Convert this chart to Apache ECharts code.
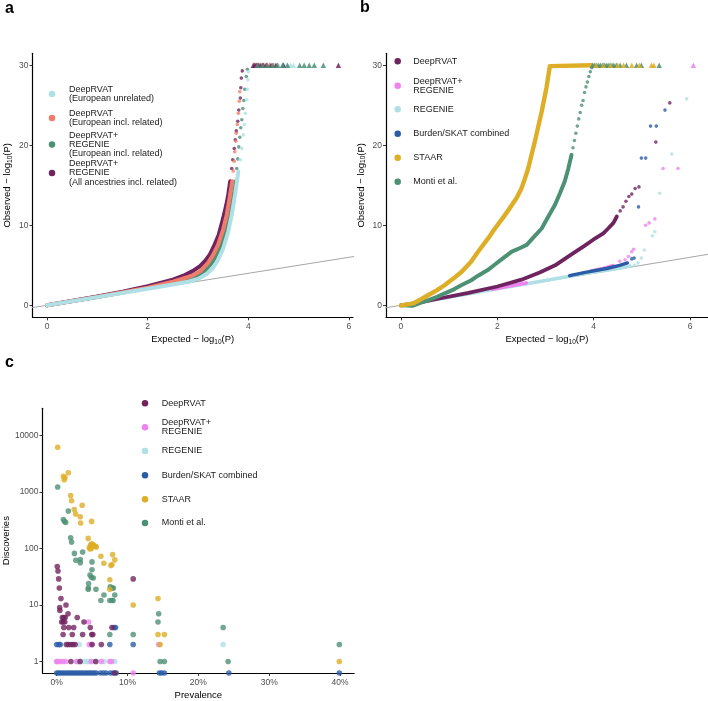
<!DOCTYPE html>
<html><head><meta charset="utf-8">
<script src="https://cdn.jsdelivr.net/npm/echarts@6/dist/echarts.min.js"></script>
<style>html,body{margin:0;padding:0;background:#fff}#c{width:708px;height:701px}</style>
</head><body><div id="c"></div>
<script>
// ---------- colours ----------
const COL = {purple:'#70245f', pink:'#ee82ee', lightblue:'#b0e0e6', blue:'#2b5ca6', gold:'#ddae26', green:'#4d9174', salmon:'#f07d6c', ident:'#a6a6a6'};

// ---------- panel a: QQ, [expected, observed] ----------
const aNames = ['DeepRVAT\n(European unrelated)','DeepRVAT\n(European incl. related)','DeepRVAT+\nREGENIE\n(European incl. related)','DeepRVAT+\nREGENIE\n(All ancestries incl. related)'];
const aEurUnrel_dense = [[0,0],[1,1.02],[2,2.08],[2.5,2.6],[2.8,2.95],[3.0,3.3],[3.17,3.9],[3.3,4.7],[3.4,5.7],[3.5,7.1],[3.6,9.2],[3.67,11.3],[3.74,14.0],[3.8,16.7]];
const aEurUnrel_tail = [[3.84,18.2],[3.87,19.6],[3.9,21.3],[3.92,22.6],[3.94,24.0],[3.97,25.7],[3.98,27.0],[3.99,28.2],[4.0,29.2]];
const aEurUnrel_capX = [4.14,4.22,4.32,4.42,4.52,4.6,4.68,4.76,4.84,4.9];
const aEurRel_dense = [[0,0],[1,1.05],[2,2.2],[2.5,2.95],[2.71,3.35],[2.9,3.75],[3.05,4.3],[3.2,5.3],[3.3,6.3],[3.4,7.6],[3.5,9.5],[3.57,11.3],[3.63,13.5],[3.68,15.5]];
const aEurRel_tail = [[3.7,16.8],[3.72,18.0],[3.73,19.2],[3.75,20.5],[3.76,21.5],[3.78,22.6],[3.8,24.0],[3.82,25.5],[3.83,26.7]];
const aEurRel_capX = [4.12,4.15,4.19,4.23,4.28,4.34,4.42,4.5];
const aRegEur_dense = [[0,0],[1,1.04],[2,2.15],[2.5,2.8],[2.8,3.25],[3.0,3.75],[3.15,4.4],[3.3,5.5],[3.45,7.5],[3.55,9.5],[3.64,11.3],[3.7,13.5],[3.75,15.5]];
const aRegEur_tail = [[3.77,17.1],[3.79,18.3],[3.81,19.8],[3.83,21.0],[3.85,22.2],[3.87,23.2],[3.89,24.6],[3.91,25.6],[3.93,27.0],[3.96,28.6],[3.98,29.5]];
const aRegEur_capX = [4.18,4.28,4.38,4.48,4.58,4.68,4.78,5.02,5.11,5.21,5.31,5.49];
const aRegAll_dense = [[0,0],[1,1.1],[1.5,1.7],[2,2.4],[2.5,3.2],[2.71,3.7],[2.9,4.3],[3.04,4.9],[3.15,5.6],[3.24,6.4],[3.33,7.6],[3.41,8.8],[3.5,10.9],[3.56,12.5],[3.6,13.8],[3.64,15.5]];
const aRegAll_tail = [[3.67,17.1],[3.69,18.2],[3.72,19.6],[3.74,20.7],[3.76,21.8],[3.79,23.0],[3.81,24.4],[3.84,25.9],[3.85,27.2],[3.86,28.4],[3.88,29.3]];
const aRegAll_capX = [4.1,4.13,4.16,4.2,4.25,4.3,4.36,4.45,4.55,4.7,5.79];
const qqCap = 30;

// ---------- panel b ----------
const bNames = ['DeepRVAT','DeepRVAT+\nREGENIE','REGENIE','Burden/SKAT combined','STAAR','Monti et al.'];
const bDeep_dense = [[0,0],[0.3,0.25],[0.8,0.85],[1.4,1.55],[2.0,2.35],[2.5,3.2],[2.88,4.1],[3.2,5.0],[3.57,6.5],[3.8,7.4],[3.99,8.2],[4.2,9.0],[4.3,9.6],[4.41,10.3],[4.48,11.1]];
const bDeep_tail = [[4.55,11.8],[4.61,12.3],[4.67,13.0],[4.73,13.6],[4.79,13.9],[4.86,14.6],[4.94,14.8],[5.29,20.4],[5.58,25.3]];
const bDRR_dense1 = [[1.9,2.02],[2.25,2.42],[2.6,2.8]];
const bDRR_dense2 = [[3.95,4.3],[4.2,4.6],[4.4,4.95]];
const bDRR_tail = [[4.54,5.5],[4.65,5.7],[4.72,6.1],[4.79,6.7],[4.83,7.0],[5.08,10.0],[5.15,10.3],[5.27,10.8],[5.44,17.1],[5.75,17.1]];
const bDRR_capX = [6.07];
const bReg_dense = [[0,0],[1,1.02],[2,2.08],[3,3.1],[4,4.15],[4.5,4.6],[4.75,4.9]];
const bReg_tail = [[4.85,5.0],[4.92,5.3],[4.99,5.9],[5.05,6.9],[5.22,8.7],[5.27,9.2],[5.37,14.0],[5.62,18.9],[5.93,25.8]];
const bBurden_dense = [[3.5,3.7],[3.85,4.15],[4.27,4.6],[4.54,5.0],[4.7,5.3]];
const bBurden_tail = [[4.79,5.8],[4.84,5.9],[4.93,12.3],[4.99,18.4],[5.08,18.4],[5.18,22.4],[5.3,22.4],[5.48,24.4]];
const bStaar_dense = [[0,0],[0.26,0.25],[0.4,0.7],[0.57,1.29],[0.75,1.9],[0.91,2.54],[1.1,3.4],[1.26,4.2],[1.45,5.4],[1.6,6.7],[1.8,8.3],[1.95,9.6],[2.1,10.8],[2.23,11.9],[2.4,13.4],[2.5,14.6],[2.57,15.8],[2.64,17.1],[2.78,20.5],[2.92,24.2],[3.02,27.2],[3.09,29.9],[3.12,30],[3.96,30]];
const bStaar_capX = [4.05,4.2,4.35,4.5,4.62,4.79,4.95,5.2,5.25];
const bMonti_dense = [[0,0],[0.25,-0.05],[0.4,0.3],[0.57,0.66],[0.75,1.05],[0.91,1.5],[1.1,2.0],[1.26,2.54],[1.45,3.1],[1.6,3.7],[1.8,4.4],[1.95,5.1],[2.1,5.8],[2.3,6.7],[2.45,7.1],[2.61,7.55],[2.75,8.5],[2.92,9.6],[3.05,11],[3.2,12.6],[3.3,14],[3.4,15.5],[3.47,17],[3.54,18.8]];
const bMonti_tail = [[3.57,19.7],[3.6,20.6],[3.63,21.5],[3.66,22.4],[3.69,23.3],[3.72,24.1],[3.75,25.0],[3.78,25.6],[3.81,26.6],[3.84,27.3],[3.87,27.9],[3.9,28.6],[3.93,29.2],[3.96,29.7]];
const bMonti_capX = [3.98,4.02,4.06,4.1,4.14,4.18,4.22,4.26,4.3,4.34,4.38,4.42,4.47,4.55,4.68,4.89,4.99,5.36];

// ---------- panel c: prevalence (%) vs discoveries ----------
const cDeep_prev = [0.08,0.18,0.28,0.37,0.6,0.42,0.45,1.31,1.6,0.8,1.0,1.2,2.9,0.7,0.9,1.15,3.85,1.0,1.7,2.4,4.74,7.8,0.9,2.2,3.66,4.95,5.1,1.36,1.64,2.0,2.3,2.6,5.0,6.3,10.8,2.0,3.3,5.5,8.2];
const cDeep_disc = [48,40,29,20,13,9,8,10,7,6,6,6,6,5,5,5,5,4,4,4,4,4,3,3,3,3,3,2,2,2,2,2,2,2,29,1,1,1,0];
const cDRR_prev = [0.0,0.1,0.45,0.85,1.27,2.8,4.9,6.3,7.5,7.75,4.6,4.9,14.4,4.5,10.8];
const cDRR_disc = [1,1,1,1,1,1,1,1,1,1,2,2,2,5,0];
const cReg_prev = [2.9,3.3,3.9,4.3,4.6,5.6,6.7,8.2,3.2,23.5];
const cReg_disc = [1,1,1,1,1,1,1,1,2,2];
const cBurden_prev = [8.1,8.3,0.0,0.3,0.5,7.5,10.8,0,0.25,0.5,0.8,1.1,1.4,1.7,2.0,2.3,2.6,2.9,3.2,3.5,3.8,4.1,4.4,4.7,5.0,5.3,5.6,6.2,6.6,7.0,7.6,8.0,8.4,14.5,14.8,15.2,24.3,39.9];
const cBurden_disc = [4,4,2,2,2,2,2,0,0,0,0,0,0,0,0,0,0,0,0,0,0,0,0,0,0,0,0,0,0,0,0,0,0,0,0,0,0,0];
const cStaar_prev = [0.14,1.64,0.94,1.17,1.05,1.97,2.1,2.48,2.67,3.6,3.32,3.38,4.93,4.45,4.6,4.75,4.85,4.95,5.05,5.15,5.3,5.45,5.6,4.7,4.9,6.24,7.9,8.2,6.66,7.65,7.8,7.5,7.5,10.8,14.3,14.3,15.2,14.6,39.9];
const cStaar_disc = [6200,2200,1900,1800,1650,870,700,490,410,585,365,283,302,151,103,112,118,121,115,117,112,110,106,98,100,73,78,63,55,50,52,28,19,10,13,3,3,2,1];
const cMonti_prev = [0.14,0.94,1.1,1.27,1.64,1.97,2.1,2.5,2.7,3.33,3.33,3.66,4.98,4.98,4.7,4.9,5.16,4.5,4.46,4.46,5.54,6.67,6.24,7.56,7.84,8.0,8.2,7.5,7.8,7.95,7.5,10.8,14.4,14.3,14.6,15.2,23.5,24.2,39.9];
const cMonti_disc = [1230,325,300,290,460,155,130,82,62,64,56,87,58,42,34,31,30,24,20,19,19,15,12,21,20,20,15,12,12,12,3,3,7,5,1,1,4,1,2];

const aXTicks = [0,2,4,6], aYTicks = [0,10,20,30];
const cXTicks = [0,10,20,30,40], cYTicks = [0,1,2,3,4];

// ---------- layout / styles ----------
const FONT = 'Liberation Sans';
const cYMin = -0.204, cYMax = 4.483;
const chart = echarts.init(document.getElementById('c'), null, {renderer:'canvas'});

function axisCommon(ticks, fmt){
  return {
    type:'value',
    axisLine:{show:true, onZero:false, lineStyle:{color:'#000', width:1.2}},
    axisTick:{show:true, length:3, customValues:ticks, lineStyle:{color:'#333', width:1}},
    axisLabel:{customValues:ticks, fontSize:8.5, color:'#4d4d4d', fontFamily:FONT, formatter:fmt},
    splitLine:{show:false}
  };
}
const richName = {t:{fontSize:9.5, color:'#000', fontFamily:FONT, lineHeight:12}, s:{fontSize:6.5, color:'#000', fontFamily:FONT, verticalAlign:'bottom', lineHeight:6}};

const xAxes = [
  Object.assign(axisCommon(aXTicks), {gridIndex:0, min:-0.29, max:6.08, name:'{t|Expected − log}{s|10}{t|(P)}', nameLocation:'middle', nameGap:16, nameTextStyle:{rich:richName}}),
  Object.assign(axisCommon(aXTicks), {gridIndex:1, min:-0.311, max:6.373, name:'{t|Expected − log}{s|10}{t|(P)}', nameLocation:'middle', nameGap:16, nameTextStyle:{rich:richName}}),
  Object.assign(axisCommon(cXTicks, v=>v+'%'), {gridIndex:2, min:-2, max:42, name:'Prevalence', nameLocation:'middle', nameGap:17, nameTextStyle:{fontSize:9.5, color:'#000', fontFamily:FONT}})
];
xAxes.forEach(a=>{a.axisLabel.margin=5;});
const yAxes = [
  Object.assign(axisCommon(aYTicks), {gridIndex:0, min:-1.5, max:31.5, name:'{t|Observed − log}{s|10}{t|(P)}', nameLocation:'middle', nameGap:19, nameRotate:90, nameTextStyle:{rich:richName}}),
  Object.assign(axisCommon(aYTicks), {gridIndex:1, min:-1.5, max:31.5, name:'{t|Observed − log}{s|10}{t|(P)}', nameLocation:'middle', nameGap:19, nameRotate:90, nameTextStyle:{rich:richName}}),
  Object.assign(axisCommon(cYTicks, v=>String(Math.round(Math.pow(10,v)))), {gridIndex:2, min:cYMin, max:cYMax, name:'Discoveries', nameLocation:'middle', nameGap:31, nameRotate:90, nameTextStyle:{fontSize:9.5, color:'#000', fontFamily:FONT}})
];
yAxes.forEach(a=>{a.axisLabel.margin=4;});

const series = [];
function ident(g){
  series.push({type:'line', xAxisIndex:g, yAxisIndex:g, data:[[-1,-1],[7,7]], symbol:'none', silent:true,
    lineStyle:{color:COL.ident, width:1}, z:1, animation:false});
}
function dense(g, name, color, data, w){
  series.push({type:'line', name, xAxisIndex:g, yAxisIndex:g, data, color, symbol:'none', silent:true,
    lineStyle:{color, width:w||4, cap:'round', join:'round'}, itemStyle:{color}, animation:false, z:2});
}
function tail(g, name, color, data){
  series.push({type:'scatter', name, xAxisIndex:g, yAxisIndex:g, data, color, symbolSize:3.6, silent:true,
    itemStyle:{color}, animation:false, z:3});
}
function cap(g, name, color, xs){
  series.push({type:'scatter', name, xAxisIndex:g, yAxisIndex:g, data:xs.map(x=>[x,qqCap]), color, symbol:'triangle', symbolSize:5.5, silent:true,
    itemStyle:{color, opacity:0.85}, animation:false, z:3, clip:false});
}

// panel a
ident(0);
dense(0, aNames[3], COL.purple, aRegAll_dense);
dense(0, aNames[2], COL.green, aRegEur_dense);
dense(0, aNames[1], COL.salmon, aEurRel_dense);
dense(0, aNames[0], COL.lightblue, aEurUnrel_dense);
tail(0, aNames[3], COL.purple, aRegAll_tail);
tail(0, aNames[2], COL.green, aRegEur_tail);
tail(0, aNames[1], COL.salmon, aEurRel_tail);
tail(0, aNames[0], COL.lightblue, aEurUnrel_tail);
cap(0, aNames[0], COL.lightblue, aEurUnrel_capX);
cap(0, aNames[1], COL.salmon, aEurRel_capX);
cap(0, aNames[3], COL.purple, aRegAll_capX);
cap(0, aNames[2], COL.green, aRegEur_capX);

// panel b
ident(1);
dense(1, bNames[2], COL.lightblue, bReg_dense, 3.6);
dense(1, bNames[1], COL.pink, bDRR_dense1, 3.6);
dense(1, bNames[1], COL.pink, bDRR_dense2, 3.6);
dense(1, bNames[3], COL.blue, bBurden_dense, 3.4);
dense(1, bNames[0], COL.purple, bDeep_dense, 3.8);
dense(1, bNames[5], COL.green, bMonti_dense, 4);
dense(1, bNames[4], COL.gold, bStaar_dense, 4.4);
tail(1, bNames[2], COL.lightblue, bReg_tail);
tail(1, bNames[1], COL.pink, bDRR_tail);
tail(1, bNames[3], COL.blue, bBurden_tail);
tail(1, bNames[0], COL.purple, bDeep_tail);
tail(1, bNames[5], COL.green, bMonti_tail);
cap(1, bNames[5], COL.green, bMonti_capX);
cap(1, bNames[4], COL.gold, bStaar_capX);
cap(1, bNames[1], COL.pink, bDRR_capX);

// panel c
function cPts(prev, disc){ return prev.map((p,i)=>[p, disc[i]>0 ? Math.log10(disc[i]) : cYMin]); }
function cSer(name, color, prev, disc){
  series.push({type:'scatter', name, xAxisIndex:2, yAxisIndex:2, data:cPts(prev,disc), color, symbolSize:5.6, silent:true,
    itemStyle:{color}, animation:false, z:3, clip:false});
}
cSer(bNames[2], COL.lightblue, cReg_prev, cReg_disc);
cSer(bNames[1], COL.pink, cDRR_prev, cDRR_disc);
cSer(bNames[3], COL.blue, cBurden_prev, cBurden_disc);
cSer(bNames[0], COL.purple, cDeep_prev, cDeep_disc);
cSer(bNames[5], COL.green, cMonti_prev, cMonti_disc);
cSer(bNames[4], COL.gold, cStaar_prev, cStaar_disc);

// legends: one per item for exact placement (icon centre cx, icon centre cy)
const LH = 9.3;
function leg(name, cx, cy, itemW){
  const n = name.split('\n').length;
  return {data:[name], left:cx - 3.25, top:cy - n*LH/2, orient:'vertical', padding:0, itemWidth:itemW, itemHeight:6.5,
    icon:'circle', selectedMode:false, textStyle:{fontSize:9, lineHeight:LH, color:'#1a1a1a', fontFamily:FONT}};
}
const legends = [
  leg(aNames[0], 52, 94, 24), leg(aNames[1], 52, 118, 24), leg(aNames[2], 52, 144.5, 24), leg(aNames[3], 52, 173, 24)
];
[61.3, 85.7, 109.3, 133.7, 157.7, 181.7].forEach((y,i)=>legends.push(leg(bNames[i], 397.7, y, 21.2)));
[403.3, 427.3, 451, 475.3, 499.3, 523].forEach((y,i)=>legends.push(leg(bNames[i], 145, y, 23.4)));

chart.setOption({
  animation:false,
  backgroundColor:'#fff',
  textStyle:{fontFamily:FONT},
  grid:[
    {left:32.5, top:53.3, width:320.5, height:264},
    {left:386, top:53.3, width:322, height:264},
    {left:42.5, top:408.3, width:311.7, height:266}
  ],
  xAxis:xAxes, yAxis:yAxes, legend:legends, series,
  graphic:[
    {type:'text', left:5, top:1, style:{text:'a', font:'bold 16px "Liberation Sans"', fill:'#000'}},
    {type:'text', left:360, top:0, style:{text:'b', font:'bold 16px "Liberation Sans"', fill:'#000'}},
    {type:'text', left:5, top:355, style:{text:'c', font:'bold 16px "Liberation Sans"', fill:'#000'}}
  ]
});
</script></body></html>
